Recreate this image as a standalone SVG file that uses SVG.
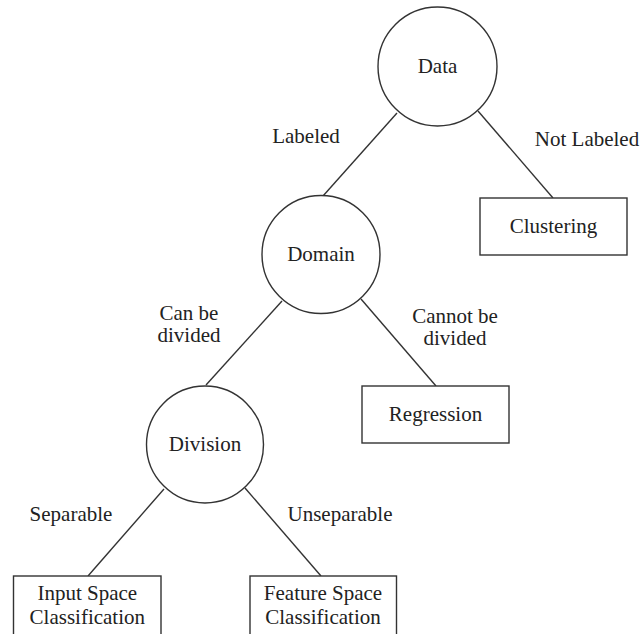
<svg xmlns="http://www.w3.org/2000/svg" width="642" height="634" viewBox="0 0 642 634" font-family="'Liberation Serif', 'Times New Roman', 'DejaVu Serif', serif">
<style>
.shape{fill:#fff;stroke:#333;stroke-width:1.4}
.edge{stroke:#333;stroke-width:1.4;fill:none}
.t{font-family:'Liberation Serif','Times New Roman','DejaVu Serif',serif;font-size:21px;fill:#222;text-anchor:middle}
</style>
<rect width="642" height="634" fill="#fff"/>
<g id="connectors">
<line class="edge" x1="397" y1="113" x2="323" y2="196"/>
<line class="edge" x1="478" y1="111" x2="553" y2="198"/>
<line class="edge" x1="282" y1="301" x2="206" y2="385"/>
<line class="edge" x1="361" y1="299" x2="436" y2="386"/>
<line class="edge" x1="164" y1="489" x2="88" y2="576"/>
<line class="edge" x1="245" y1="488" x2="321" y2="576"/>
<text class="t" x="306" y="143">Labeled</text>
<text class="t" x="587" y="146">Not Labeled</text>
<text class="t" x="189" y="320">Can be</text>
<text class="t" x="189" y="342">divided</text>
<text class="t" x="455" y="323">Cannot be</text>
<text class="t" x="455" y="345">divided</text>
<text class="t" x="71" y="521">Separable</text>
<text class="t" x="340" y="521">Unseparable</text>
</g>
<g id="data">
<circle class="shape" cx="437.5" cy="66.5" r="59.5"/>
<text class="t" x="437.5" y="73">Data</text>
</g>
<g id="clustering">
<rect class="shape" x="480" y="198" width="147" height="57"/>
<text class="t" x="553.5" y="233">Clustering</text>
</g>
<g id="domain">
<circle class="shape" cx="321" cy="254.5" r="59"/>
<text class="t" x="321" y="261">Domain</text>
</g>
<g id="regression">
<rect class="shape" x="362" y="386" width="147" height="57"/>
<text class="t" x="435.5" y="421">Regression</text>
</g>
<g id="division">
<circle class="shape" cx="205" cy="444.5" r="58.5"/>
<text class="t" x="205" y="451">Division</text>
</g>
<g id="input-space">
<rect class="shape" x="13.5" y="576" width="147.5" height="62"/>
<text class="t" x="87.3" y="600">Input Space</text>
<text class="t" x="87.3" y="624">Classification</text>
</g>
<g id="feature-space">
<rect class="shape" x="250" y="576" width="146.5" height="62"/>
<text class="t" x="323" y="600">Feature Space</text>
<text class="t" x="323" y="624">Classification</text>
</g>
</svg>
